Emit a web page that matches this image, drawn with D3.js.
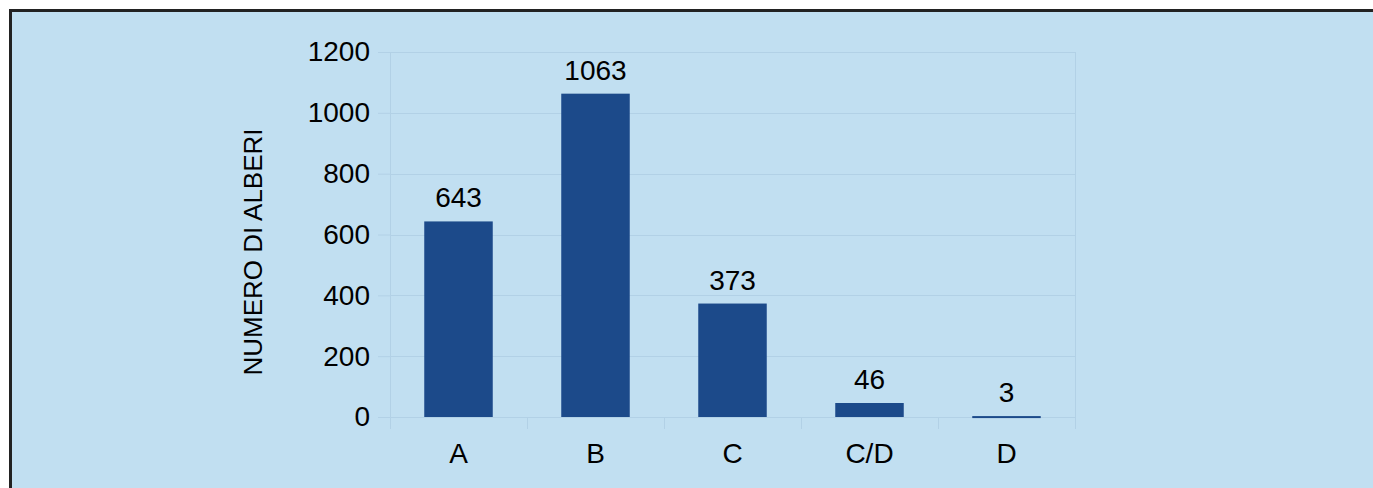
<!DOCTYPE html>
<html>
<head>
<meta charset="utf-8">
<script src="https://cdn.jsdelivr.net/npm/d3@7"></script>
<style>
html,body{margin:0;padding:0;background:#fff;}
svg{display:block;}
text{font-family:"Liberation Sans",Arial,sans-serif;fill:#000;}
</style>
</head>
<body>
<svg id="chart" width="1373" height="488"></svg>
<script>
const categories = ["A", "B", "C", "C/D", "D"];
const values = [643, 1063, 373, 46, 3];
const yTicks = [0, 200, 400, 600, 800, 1000, 1200];
const yTitle = "NUMERO DI ALBERI";

const W = 1373, H = 488;
const svg = d3.select("#chart");
const bg = "#c1dff1", grid = "#b2d1e6", barColor = "#1c4a8a";

svg.append("rect").attr("x", 10.5).attr("y", 10.5).attr("width", W + 10).attr("height", H + 10)
  .attr("fill", bg).attr("stroke", "#222").attr("stroke-width", 3);

const m = {left: 390, right: 1075, top: 52, bottom: 417};
const x = d3.scaleBand().domain(categories).range([m.left, m.right]).paddingInner(0.5).paddingOuter(0.25);
const y = d3.scaleLinear().domain([0, 1200]).range([m.bottom, m.top]);

// gridlines + y ticks
const yAxis = svg.append("g").attr("transform", `translate(${m.left},0)`)
  .call(d3.axisLeft(y).tickValues(yTicks).tickSize(12).tickPadding(8).tickFormat(d3.format("d")));
yAxis.select(".domain").attr("stroke", grid);
yAxis.selectAll(".tick line").attr("stroke", grid);
yAxis.selectAll(".tick text").attr("font-size", 28).attr("font-family", '"Liberation Sans",Arial,sans-serif').attr("fill", "#000");
svg.append("g").selectAll("line").data(yTicks).join("line")
  .attr("x1", m.left).attr("x2", m.right)
  .attr("y1", d => Math.round(y(d)) + 0.5).attr("y2", d => Math.round(y(d)) + 0.5)
  .attr("stroke", grid);
svg.append("line").attr("x1", m.right + 0.5).attr("x2", m.right + 0.5).attr("y1", m.top).attr("y2", m.bottom)
  .attr("stroke", grid);

// category boundary ticks
const bounds = d3.range(categories.length + 1).map(i => m.left + i * (m.right - m.left) / categories.length);
svg.append("g").selectAll("line").data(bounds).join("line")
  .attr("x1", d => Math.round(d) + 0.5).attr("x2", d => Math.round(d) + 0.5)
  .attr("y1", m.bottom).attr("y2", m.bottom + 12).attr("stroke", grid);

// x labels
svg.append("g").selectAll("text").data(categories).join("text")
  .attr("x", d => x(d) + x.bandwidth() / 2).attr("y", 463)
  .attr("text-anchor", "middle").attr("font-size", 28).text(d => d);

// bars
const data = categories.map((c, i) => ({c, v: values[i]}));
svg.append("g").selectAll("rect").data(data).join("rect")
  .attr("x", d => x(d.c)).attr("width", x.bandwidth())
  .attr("y", d => y(d.v)).attr("height", d => Math.max(2, y(0) - y(d.v)))
  .attr("fill", barColor);

// value labels
svg.append("g").selectAll("text").data(data).join("text")
  .attr("x", d => x(d.c) + x.bandwidth() / 2).attr("y", d => y(d.v) - 14)
  .attr("text-anchor", "middle").attr("font-size", 28).text(d => d.v);

// y title
svg.append("text").attr("transform", "translate(262,252) rotate(-90)")
  .attr("text-anchor", "middle").attr("font-size", 26).text(yTitle);
</script>
</body>
</html>
